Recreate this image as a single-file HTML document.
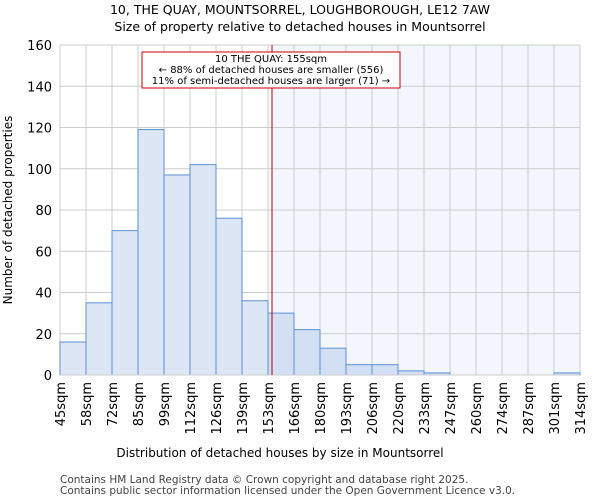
<!DOCTYPE html>
<html><head><meta charset="utf-8"><style>
body{margin:0;background:#fff;font-family:"DejaVu Sans","Liberation Sans",sans-serif}
</style></head><body>
<svg id="c" width="600" height="500" xmlns="http://www.w3.org/2000/svg" font-family="DejaVu Sans, Liberation Sans, sans-serif">
<text x="300" y="14" font-size="12.5" text-anchor="middle">10, THE QUAY, MOUNTSORREL, LOUGHBOROUGH, LE12 7AW</text>
<text x="300" y="31" font-size="12.5" text-anchor="middle">Size of property relative to detached houses in Mountsorrel</text>
<g id="plot"></g>
<text x="280" y="457" font-size="12" text-anchor="middle">Distribution of detached houses by size in Mountsorrel</text>
<text transform="translate(12,210) rotate(-90)" font-size="12" text-anchor="middle">Number of detached properties</text>
<text x="60" y="483" font-size="10.5" fill="#444">Contains HM Land Registry data © Crown copyright and database right 2025.</text>
<text x="60" y="494" font-size="10.5" fill="#444">Contains public sector information licensed under the Open Government Licence v3.0.</text>
</svg>
<script>
const binLabels=["45sqm","58sqm","72sqm","85sqm","99sqm","112sqm","126sqm","139sqm","153sqm","166sqm","180sqm","193sqm","206sqm","220sqm","233sqm","247sqm","260sqm","274sqm","287sqm","301sqm","314sqm"];
const binEdges=[45,58,72,85,99,112,126,139,153,166,180,193,206,220,233,247,260,274,287,301,314];
const counts=[16,35,70,119,97,102,76,36,30,22,13,5,5,2,1,0,0,0,0,1];
const yTicks=[0,20,40,60,80,100,120,140,160];
const propertySize=155;
const NS="http://www.w3.org/2000/svg";
const L=60,R=580,T=45,B=375,n=counts.length,bw=(R-L)/n;
const x=i=>L+i*bw;
const xv=v=>{let i=0;while(i<n-1&&v>binEdges[i+1])i++;return x(i)+(v-binEdges[i])/(binEdges[i+1]-binEdges[i])*bw;};
const y=v=>B-v/160*(B-T);
const g=document.getElementById('plot');
function mk(t,a){const e=document.createElementNS(NS,t);for(const k in a)e.setAttribute(k,a[k]);g.appendChild(e);return e;}
const px=xv(propertySize);
let e=mk('rect',{x:px,y:T,width:R-px,height:B-T,fill:'#f3f6fd'});


for(const t of yTicks){e=mk('line',{x1:L,x2:R,y1:y(t),y2:y(t),stroke:'#ccc'});


e=mk('text',{x:L-8,y:y(t)+5,'font-size':13,'text-anchor':'end'});e.textContent=t;

}
for(let i=0;i<=n;i++){e=mk('line',{x1:x(i),x2:x(i),y1:T,y2:B,stroke:'#ccc'});

}
counts.forEach((c,i)=>{e=mk('rect',{x:x(i),y:y(c),width:bw,height:B-y(c),fill:i>=8?'#d3e0f3':'#dde6f4',stroke:'#5b8fd6','stroke-width':1});

});
binLabels.forEach((l,i)=>{e=mk('text',{transform:`translate(${x(i)+5},382) rotate(-90)`,'font-size':13,'text-anchor':'end'});e.textContent=l;

});
e=mk('line',{x1:L,x2:R,y1:B,y2:B,stroke:'#ccc'});
e=mk('line',{x1:px,x2:px,y1:T,y2:B,stroke:'#b00','stroke-width':1});


e=mk('rect',{x:142,y:52,width:258,height:36,fill:'#fff',stroke:'#c00'});


[["10 THE QUAY: 155sqm",62],["← 88% of detached houses are smaller (556)",73],["11% of semi-detached houses are larger (71) →",84]].forEach(([t,yy])=>{e=mk('text',{x:271,y:yy,'font-size':10,'text-anchor':'middle'});e.textContent=t;

});
</script>
</body></html>
